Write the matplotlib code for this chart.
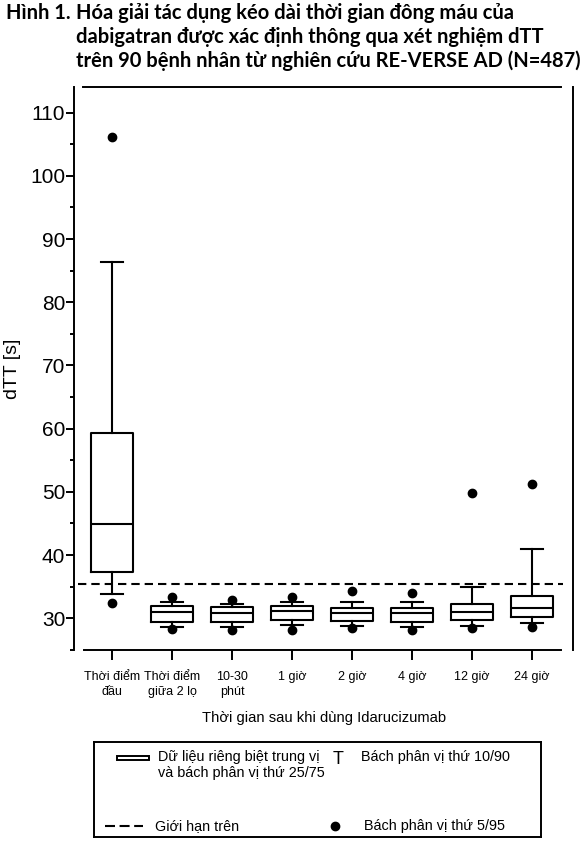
"""
Box plot of dTT after Idarucizumab (RE-VERSE AD), redrawn with matplotlib.
"""

import matplotlib.pyplot as plt
from matplotlib.patches import Rectangle

labels = ["Thời điểm\nđầu", "Thời điểm\ngiữa 2 lọ", "10-30\nphút", "1 giờ",
          "2 giờ", "4 giờ", "12 giờ", "24 giờ"]
p5 = [32.4, 28.3, 28.1, 28.1, 28.4, 28.2, 28.4, 28.6]
p10 = [33.8, 28.7, 28.7, 28.9, 28.8, 28.7, 28.8, 29.3]
q1 = [37.4, 29.4, 29.4, 29.7, 29.5, 29.4, 29.7, 30.2]
med = [44.9, 31.0, 30.8, 31.1, 30.9, 30.8, 31.0, 31.6]
q3 = [59.3, 32.0, 31.8, 32.0, 31.7, 31.7, 32.3, 33.6]
p90 = [86.3, 32.6, 32.3, 32.6, 32.6, 32.6, 34.9, 40.9]
p95 = [106.2, 33.3, 32.9, 33.3, 34.3, 34.0, 49.9, 51.2]
upper_limit = 35.5

title_lines = ["Hóa giải tác dụng kéo dài thời gian đông máu của",
               "dabigatran được xác định thông qua xét nghiệm dTT",
               "trên 90 bệnh nhân từ nghiên cứu RE-VERSE AD (N=487)"]

W, H = 583, 841
plt.rcParams["font.family"] = ["Liberation Sans", "DejaVu Sans"]

fig = plt.figure(figsize=(W / 100, H / 100), dpi=100)


def px(x, y):
    """pixel position -> figure fraction"""
    return x / W, 1 - y / H


# title
title_font = dict(family=["Lato", "DejaVu Sans"], fontweight="bold", fontsize=14.5)
fig.text(*px(6, 18.7), "Hình 1.", va="baseline", ha="left", **title_font)
for i, line in enumerate(title_lines):
    fig.text(*px(76, 18.7 + 24 * i), line, va="baseline", ha="left", **title_font)

# main axes
left, right, top, bottom = 74.3, 573, 87.4, 649.9
ax = fig.add_axes([left / W, 1 - bottom / H, (right - left) / W, (bottom - top) / H])

stats = []
for i in range(len(labels)):
    stats.append(dict(med=med[i], q1=q1[i], q3=q3[i], whislo=p10[i],
                      whishi=p90[i], fliers=[p5[i], p95[i]]))

lw = 1.5
ax.bxp(stats, positions=range(len(labels)), widths=0.7, capwidths=0.37,
       boxprops=dict(color="black", linewidth=lw),
       whiskerprops=dict(color="black", linewidth=lw),
       capprops=dict(color="black", linewidth=lw),
       medianprops=dict(color="black", linewidth=lw),
       flierprops=dict(marker="o", markerfacecolor="black", markeredgecolor="black",
                       markersize=6),
       manage_ticks=False)

ax.axhline(upper_limit, xmin=0.007, xmax=0.98, color="black", linewidth=lw,
           linestyle=(0, (4, 2.4)))

ax.set_xlim(-0.634, 7.691)
ax.set_ylim(25, 114)
ax.set_yticks(range(30, 111, 10))
ax.set_yticks(range(25, 111, 10), minor=True)
ax.set_xticks(range(len(labels)))
ax.set_xticklabels(labels, fontsize=9, linespacing=1.3)

ax.tick_params(axis="y", which="major", length=5.8, width=1.4, pad=0.8, labelsize=15)
ax.tick_params(axis="y", which="minor", length=2.9, width=1.4)
ax.tick_params(axis="x", length=7.5, width=1.4, pad=8)

for s in ax.spines.values():
    s.set_linewidth(1.4)
ax.spines["top"].set_bounds(-0.489, 7.49)
ax.spines["bottom"].set_bounds(-0.467, 7.49)

ax.set_ylabel("dTT [s]", fontsize=14)
ax.yaxis.set_label_coords(-0.107, 0.5)
ax.set_xlabel("Thời gian sau khi dùng Idarucizumab", fontsize=10.6, labelpad=9)

# legend drawn in a pixel-based axes
lx0, lx1, ly0, ly1 = 94, 541, 742, 837
lax = fig.add_axes([lx0 / W, 1 - ly1 / H, (lx1 - lx0) / W, (ly1 - ly0) / H])
lax.set_xlim(lx0, lx1)
lax.set_ylim(ly1, ly0)
lax.set_xticks([])
lax.set_yticks([])
for s in lax.spines.values():
    s.set_linewidth(1.4)

leg_fs = 10.4
lax.add_patch(Rectangle((117, 756), 32, 4, fill=False, edgecolor="black", linewidth=1.4))
lax.text(158, 757, "Dữ liệu riêng biệt trung vị", fontsize=leg_fs, va="center", ha="left")
lax.text(158, 773, "và bách phân vị thứ 25/75", fontsize=leg_fs, va="center", ha="left")
lax.text(338, 759, "T", fontsize=13, va="center", ha="center")
lax.text(361, 757, "Bách phân vị thứ 10/90", fontsize=leg_fs, va="center", ha="left")
lax.plot([105, 143], [825.7, 825.7], color="black", linewidth=lw, linestyle=(0, (4.8, 2.2)))
lax.text(155, 825.7, "Giới hạn trên", fontsize=leg_fs, va="center", ha="left")
lax.plot([335], [826], marker="o", color="black", markersize=6)
lax.text(364, 825.7, "Bách phân vị thứ 5/95", fontsize=leg_fs, va="center", ha="left")

fig.savefig("out.png", dpi=100)
